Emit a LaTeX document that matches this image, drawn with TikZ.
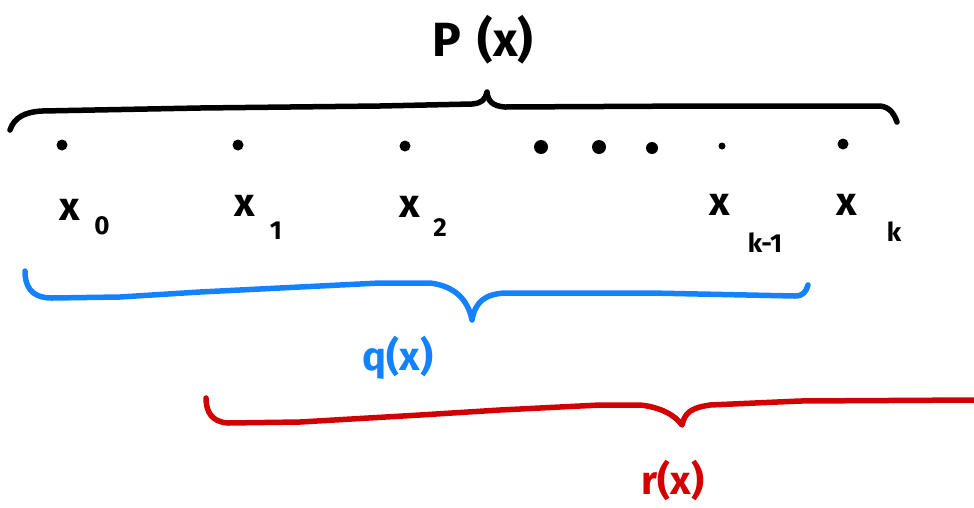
\documentclass[tikz,border=0pt]{standalone}
\usepackage{fontspec}
\setmainfont{Fira Sans}[BoldFont={* Bold}]
\definecolor{qblue}{RGB}{20,130,255}
\definecolor{rred}{RGB}{210,0,0}
\tikzset{
  brace/.style={line width=5.5pt,line cap=round,line join=round},
  pt/.style={circle,fill=black,inner sep=0pt,minimum size=11pt},
  lab/.style={inner sep=0pt,font=\bfseries\fontsize{40}{40}\selectfont},
  sub/.style={inner sep=0pt,font=\bfseries\fontsize{26}{26}\selectfont},
  big/.style={inner sep=0pt,font=\bfseries\fontsize{48}{48}\selectfont}
}
\begin{document}
\begin{tikzpicture}[x=1pt,y=-1pt]
\useasboundingbox (0,0) rectangle (974,507);
% P(x)
\node[big] (P) at (483,40) {P\,\,(x)};
\draw[brace] (10,130) .. controls (14,118) and (24,112) .. (42,111)
  -- (200,108) -- (380,106) -- (472,104) .. controls (482,103) and (485,100) .. (487,92)
  .. controls (488,101) and (492,106) .. (505,107) -- (700,106) -- (880,106)
  .. controls (890,107) and (894,114) .. (897,122);
% points
\node[pt] (d0) at (62,145) {};
\node[pt] (d1) at (238,145) {};
\node[pt] (d2) at (405,146) {};
\node[pt,minimum size=14pt] (e1) at (541,147) {};
\node[pt,minimum size=14pt] (e2) at (599,147) {};
\node[pt,minimum size=12pt] (e3) at (652,148) {};
\node[pt,minimum size=7pt] (e4) at (722,146) {};
\node[pt] (dk) at (843,144) {};
% labels
\node[lab] (x0) at (70,210) {x};
\node[sub] (s0) at (102,226) {0};
\node[lab] (x1) at (245,206) {x};
\node[sub] (s1) at (276,231) {1};
\node[lab] (x2) at (410,207) {x};
\node[sub] (s2) at (440,228) {2};
\node[lab] (xk1) at (720,205) {x};
\node[sub] (sk1) at (765,243) {k-1};
\node[lab] (xk) at (847,205) {x};
\node[sub] (sk) at (894,232) {k};
% q brace
\draw[brace,qblue] (25,271) .. controls (25,285) and (30,298) .. (52,298)
  -- (120,297) -- (200,292) -- (300,287) -- (380,283) -- (430,283)
  .. controls (455,286) and (468,300) .. (472,320)
  .. controls (475,302) and (485,294) .. (505,293) -- (650,293) -- (795,296)
  .. controls (803,296) and (806,292) .. (808,285);
\node[lab,text=qblue] (q) at (398,358) {q(x)};
% r brace
\draw[brace,rred] (206,398) .. controls (206,412) and (212,422) .. (228,423)
  -- (300,422) -- (420,415) -- (500,410) -- (600,405) -- (640,405)
  .. controls (660,407) and (675,415) .. (682,425)
  .. controls (685,413) and (690,408) .. (710,405) -- (800,401) -- (974,400);
\node[lab,text=rred] (r) at (673,480) {r(x)};
\end{tikzpicture}
\end{document}
